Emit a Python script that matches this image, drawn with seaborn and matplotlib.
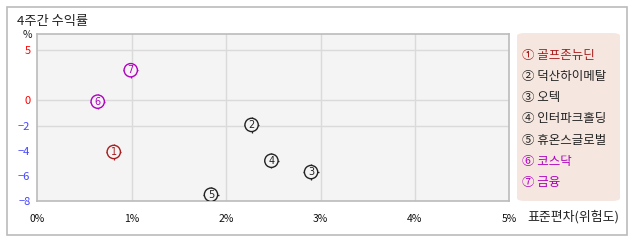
import numpy as np
import pandas as pd
import matplotlib
matplotlib.use("Agg")
import matplotlib.pyplot as plt
from matplotlib.patches import FancyBboxPatch, Rectangle
import seaborn as sns

# ---- data ----
names = ['골프존뉴딘', '덕산하이메탈', '오텍', '인터파크홀딩', '휴온스글로벌', '코스닥', '금융']
std_dev = [0.81, 2.27, 2.90, 2.48, 1.84, 0.64, 0.99]      # 표준편차 (%)
returns = [-4.1, -1.95, -5.7, -4.8, -7.5, -0.1, 3.0]      # 4주간 수익률 (%)
colors = ['#A81E1E', '#222222', '#222222', '#222222', '#222222', '#B000C0', '#B000C0']
x_ticks = [0, 1, 2, 3, 4, 5]
x_tick_labels = ['0%', '1%', '2%', '3%', '4%', '5%']
y_ticks = [5, 0, -2, -4, -6, -8]
y_tick_labels = ['5', '0', '\u22122', '\u22124', '\u22126', '\u22128']
y_tick_colors = ['#FF0000', '#FF0000', '#4646FF', '#4646FF', '#4646FF', '#4646FF']
y_grid = [5, 0, -2]
nums = [chr(0x2460 + i) for i in range(len(names))]

sns.set_theme(style='white')
plt.rcParams['font.family'] = ['Noto Sans CJK KR', 'DejaVu Sans']
plt.rcParams['axes.unicode_minus'] = True

W, H = 638, 242
fig = plt.figure(figsize=(W / 100, H / 100), dpi=100)
fig.patch.set_facecolor('white')

def fx(px):
    return px / W

def fy(py):
    return 1 - py / H

ax = fig.add_axes([fx(37.3), fy(201), fx(509.3) - fx(37.3), fy(34.3) - fy(201)])
ax.set_facecolor('#F4F4F4')

# piecewise y scale (positive part compressed)
def fwd(y):
    y = np.asarray(y, dtype=float)
    return np.where(y >= 0, 0.8 * y, y)

def inv(f):
    f = np.asarray(f, dtype=float)
    return np.where(f >= 0, f / 0.8, f)

ax.set_yscale('function', functions=(fwd, inv))
ax.set_xlim(0, 5)
ax.set_ylim(-8, 6.57)

for g in y_grid:
    ax.axhline(g, color='#DADADA', lw=1, zorder=0)
for g in x_ticks[1:-1]:
    ax.axvline(g, color='#DADADA', lw=1, zorder=0)

df = pd.DataFrame({'name': names, 'std': std_dev, 'ret': returns})
pal = dict(zip(names, colors))

sns.scatterplot(data=df, x='std', y='ret', hue='name', palette=pal, marker='+',
                s=120, linewidth=0.9, legend=False, ax=ax, zorder=3)
ax.scatter(df['std'], df['ret'], s=92, facecolor='#F4F4F4', edgecolor=colors,
           linewidth=1.0, zorder=4)
for n, xv, yv, c in zip(range(1, len(names) + 1), std_dev, returns, colors):
    ax.text(xv, yv, str(n), color=c, fontsize=7, ha='center', va='center',
            family='DejaVu Sans', zorder=5)

ax.set_xticks(x_ticks)
ax.set_xticklabels(x_tick_labels, fontsize=7.5, color='#111111')
ax.set_yticks(y_ticks)
ax.set_yticklabels(y_tick_labels, fontsize=8)
for lbl, c in zip(ax.get_yticklabels(), y_tick_colors):
    lbl.set_color(c)
ax.tick_params(axis='both', length=0)
ax.tick_params(axis='x', pad=9)
ax.tick_params(axis='y', pad=5)
ax.set_xlabel('')
ax.set_ylabel('')
for s in ax.spines.values():
    s.set_color('#BBBBBB')
    s.set_linewidth(1.2)

# outer frame
fig.patches.append(Rectangle((fx(6.5), fy(235)), fx(627) - fx(6.5), fy(7) - fy(235),
                             transform=fig.transFigure, fill=False,
                             edgecolor='#BBBBBB', lw=1.2))

fig.text(fx(17), fy(21), '4주간 수익률', fontsize=9.5, color='#222222', va='center', ha='left')
fig.text(fx(27), fy(35), '%', fontsize=7.5, color='#222222', va='center', ha='center')
fig.text(fx(527), fy(217), '표준편차(위험도)', fontsize=9.3, color='#222222', va='center', ha='left')

# legend box
fig.patches.append(FancyBboxPatch((fx(517), fy(201)), fx(620) - fx(517), fy(33) - fy(201),
                                  boxstyle='round,pad=0,rounding_size=0.012',
                                  transform=fig.transFigure, facecolor='#F5E7E0',
                                  edgecolor='none'))
for i, (n, nm, c) in enumerate(zip(nums, names, colors)):
    fig.text(fx(521.5), fy(55.5 + i * 21.15), n + ' ' + nm, fontsize=9, color=c,
             va='center', ha='left')

fig.savefig('out.png', dpi=100)
